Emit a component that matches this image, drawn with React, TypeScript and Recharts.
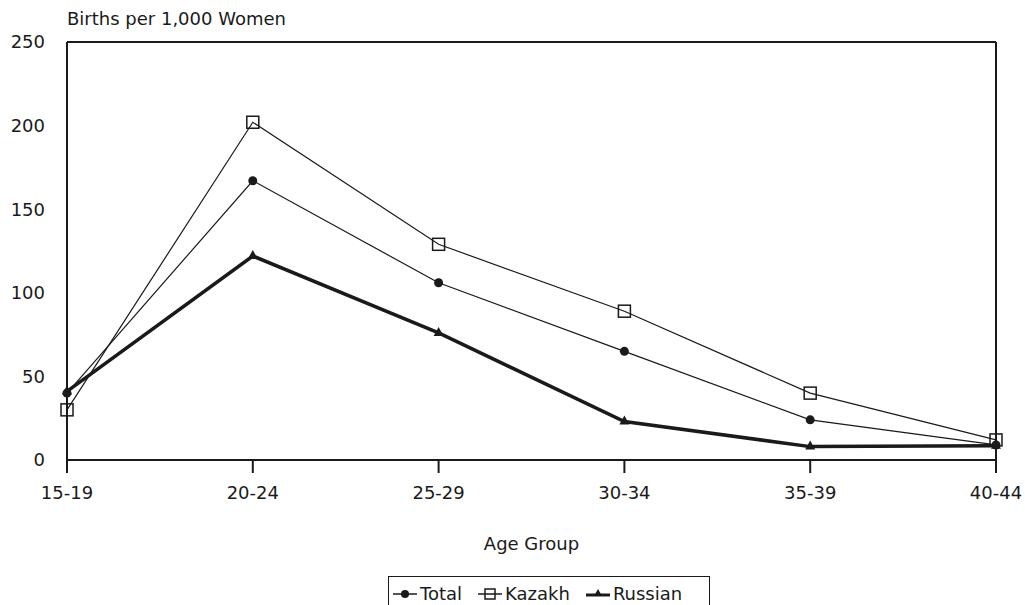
import React from 'react';
import { LineChart, Line, XAxis, YAxis, ReferenceLine } from 'recharts';

const ageGroups = ['15-19', '20-24', '25-29', '30-34', '35-39', '40-44'];
const totalRates = [40, 167, 106, 65, 24, 9];
const kazakhRates = [30, 202, 129, 89, 40, 12];
const russianRates = [41, 122, 76, 23, 8, 8.5];
const yTicks = [0, 50, 100, 150, 200, 250];
const seriesNames = ['Total', 'Kazakh', 'Russian'];

const data = ageGroups.map((age, i) => ({
  age,
  Total: totalRates[i],
  Kazakh: kazakhRates[i],
  Russian: russianRates[i],
}));

const FONT = '"DejaVu Sans", Verdana, sans-serif';
const INK = '#1a1a1a';

const CircleDot = (props: any) => {
  const { cx, cy, index } = props;
  if (cx == null || cy == null) return null;
  return <circle key={`c${index}`} cx={cx} cy={cy} r={4.5} fill={INK} stroke="none" />;
};

const SquareDot = (props: any) => {
  const { cx, cy, index } = props;
  if (cx == null || cy == null) return null;
  return (
    <rect key={`s${index}`} x={cx - 6} y={cy - 6} width={12} height={12}
      fill="#fff" fillOpacity={0} stroke={INK} strokeWidth={1.5} />
  );
};

const TriangleDot = (props: any) => {
  const { cx, cy, index } = props;
  if (cx == null || cy == null) return null;
  return (
    <path key={`t${index}`} d={`M${cx},${cy - 6} L${cx + 5},${cy + 3} L${cx - 5},${cy + 3} Z`}
      fill={INK} stroke="none" />
  );
};

const LegendIcon = ({ name }: { name: string }) => {
  if (name === 'Total') {
    return (
      <svg width={26} height={14}>
        <line x1={1} y1={7} x2={25} y2={7} stroke={INK} strokeWidth={1.5} />
        <circle cx={13} cy={7} r={4} fill={INK} />
      </svg>
    );
  }
  if (name === 'Kazakh') {
    return (
      <svg width={26} height={14}>
        <line x1={1} y1={7} x2={25} y2={7} stroke={INK} strokeWidth={1.5} />
        <rect x={8} y={2} width={10} height={10} fill="none" stroke={INK} strokeWidth={1.5} />
      </svg>
    );
  }
  return (
    <svg width={26} height={14}>
      <line x1={1} y1={8} x2={25} y2={8} stroke={INK} strokeWidth={3} />
      <path d="M13,2 L17,9 L9,9 Z" fill={INK} />
    </svg>
  );
};

const LegendBox = () => (
  <div style={{
    position: 'absolute', left: 388, top: 576,
    border: `1.5px solid ${INK}`, borderBottom: 'none', width: 322, height: 34,
    display: 'flex', alignItems: 'flex-start', paddingTop: 7, boxSizing: 'border-box',
    fontFamily: FONT, fontSize: 18, color: INK,
  }}>
    {seriesNames.map((name) => (
      <div key={name} style={{ display: 'flex', alignItems: 'center', marginLeft: 3, marginRight: 12 }}>
        <LegendIcon name={name} />
        <span style={{ marginLeft: 2, lineHeight: '20px' }}>{name}</span>
      </div>
    ))}
  </div>
);

export default function App() {
  return (
    <div style={{ position: 'absolute', left: 0, top: 0, width: 1025, height: 605, overflow: 'hidden', background: '#fff' }}>
      <LineChart width={1025} height={605} data={data}
        margin={{ top: 42, right: 29, bottom: 115, left: 0 }}>
        <XAxis dataKey="age" stroke={INK} strokeWidth={2} tickSize={13} tickMargin={13}
          height={30} tick={{ fill: INK, fontSize: 18, fontFamily: FONT }} />
        <YAxis domain={[0, 250]} ticks={yTicks} width={67} stroke={INK} strokeWidth={2}
          tickLine={false} tickSize={0} tickMargin={22} interval={0}
          tick={{ fill: INK, fontSize: 18, fontFamily: FONT }} />
        <ReferenceLine y={250} stroke={INK} strokeWidth={2} />
        <ReferenceLine x="40-44" stroke={INK} strokeWidth={2} />
        <Line dataKey="Total" stroke={INK} strokeWidth={1.2} dot={CircleDot}
          isAnimationActive={false} />
        <Line dataKey="Kazakh" stroke={INK} strokeWidth={1.2} dot={SquareDot}
          isAnimationActive={false} />
        <Line dataKey="Russian" stroke={INK} strokeWidth={3.5} dot={TriangleDot}
          isAnimationActive={false} />
      </LineChart>
      <div style={{ position: 'absolute', left: 67, top: 8, fontFamily: FONT, fontSize: 18, color: INK, whiteSpace: 'nowrap' }}>
        Births per 1,000 Women
      </div>
      <div style={{ position: 'absolute', left: 0, width: 1063, top: 533, textAlign: 'center', fontFamily: FONT, fontSize: 18, color: INK }}>
        Age Group
      </div>
      <LegendBox />
    </div>
  );
}
